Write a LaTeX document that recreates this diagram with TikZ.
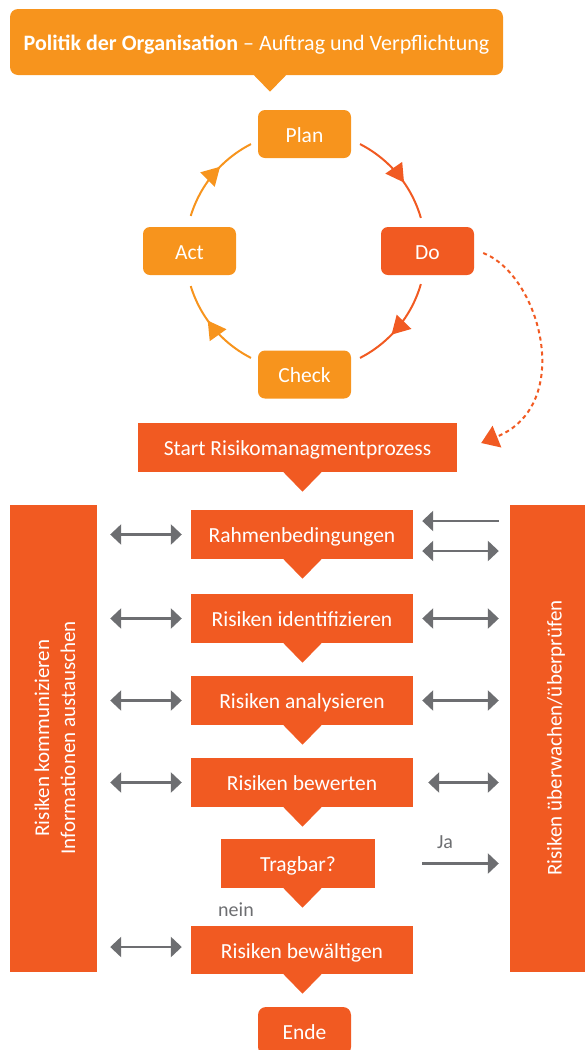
\documentclass[tikz,border=0pt]{standalone}
\usepackage{fontspec}
\setmainfont{Carlito}
\usetikzlibrary{arrows.meta,decorations.markings,calc}
\definecolor{lightor}{HTML}{F7941D}
\definecolor{darkor}{HTML}{F15A22}
\definecolor{arrgray}{HTML}{6D6E71}
\tikzset{gtip/.tip={Triangle[length=11pt,width=20pt]}}
% callout point below a box: node, colour, x offset, half width
\newcommand\droptip[4]{\fill[#2] ($(#1.south)+(#3-#4,-0.5)$) -- ($(#1.south)+(#3+#4,-0.5)$) -- ($(#1.south)+(#3,#4)$) -- cycle;}
\begin{document}
\begin{tikzpicture}[x=1pt,y=-1pt,
  txt/.style={text=white, font=\fontsize{21.5}{25}\selectfont, inner sep=0pt, text height=16pt, text depth=0pt},
  flowbox/.style={txt, fill=darkor, minimum width=222pt, minimum height=49pt},
  pdcabox/.style={txt, fill=lightor, rounded corners=7pt, minimum width=93pt, minimum height=48pt},
  sidebar/.style={fill=darkor, inner sep=0pt},
  vtext/.style={text=white, font=\fontsize{21}{26}\selectfont, rotate=90, align=center, inner sep=0pt},
  link/.style={draw=arrgray, line width=2.7pt},
  biarrow/.style={link, gtip-gtip},
  uniarrow/.style={link, -gtip},
  cyclearc/.style={color=#1, line width=2pt, postaction={decorate},
    decoration={markings, mark=at position 0.6 with {\arrow{Triangle[length=18pt,width=20pt]}}}},
  glabel/.style={text=arrgray, font=\fontsize{20}{24}\selectfont, inner sep=0pt, anchor=base}
]
\useasboundingbox (0,0) rectangle (585,1050);

% policy banner
\node[txt, fill=lightor, rounded corners=8pt, minimum width=493pt, minimum height=66pt,
  font=\fontsize{22}{27}\selectfont] (policy) at (256.5,42)
  {\textbf{Politik der Organisation} – Auftrag und Verpflichtung};
\droptip{policy}{lightor}{13.5}{16.5}

% PDCA cycle
\coordinate (cyc) at (305.5,251);
\draw[cyclearc=darkor] ([shift={(cyc)}]-63:120) arc[start angle=-63, end angle=-16, radius=120];
\draw[cyclearc=darkor] ([shift={(cyc)}]16:120) arc[start angle=16, end angle=63, radius=120];
\draw[cyclearc=lightor] ([shift={(cyc)}]117:120) arc[start angle=117, end angle=163, radius=120];
\draw[cyclearc=lightor] ([shift={(cyc)}]197:120) arc[start angle=197, end angle=243, radius=120];

\node[pdcabox] (plan) at (304.5,134) {Plan};
\node[pdcabox, fill=darkor] (do) at (427.5,251) {Do};
\node[pdcabox] (act) at (189.5,251) {Act};
\node[pdcabox] (check) at (304.5,374.5) {Check};

% start of the risk process
\node[flowbox, minimum width=319pt] (start) at (297.5,447.5) {Start Risikomanagmentprozess};
\droptip{start}{darkor}{5}{19.5}

\draw[darkor, line width=2pt, dash pattern=on 4pt off 3.5pt, -{Triangle[length=17pt,width=23pt]}]
  ($(do.east)+(9,2)$) .. controls +(57,22) and +(94,-38) .. ($(start.east)+(24,-4.5)$);

% side bars
\node[sidebar, minimum width=87pt, minimum height=467pt] (lbar) at (53.5,738.5) {};
\node[sidebar, minimum width=75pt, minimum height=467pt] (rbar) at (547.5,738.5) {};
\node[vtext] (ltext) at (55,738) {Risiken kommunizieren\\Informationen austauschen};
\node[vtext] (rtext) at (556,738) {Risiken überwachen/überprüfen};

% process steps
\node[flowbox] (rahmen) at (302,534.5) {Rahmenbedingungen};
\node[flowbox] (ident) at (302,618.5) {Risiken identifizieren};
\node[flowbox] (analys) at (302,700.5) {Risiken analysieren};
\node[flowbox] (bewert) at (302,782.5) {Risiken bewerten};
\node[flowbox, minimum width=154pt] (tragbar) at (298,863.5) {Tragbar?};
\node[flowbox, minimum height=48pt] (bewaelt) at (302,950) {Risiken bewältigen};
\node[pdcabox, fill=darkor, rounded corners=8pt] (ende) at (304.5,1031) {Ende};

\droptip{rahmen}{darkor}{0.5}{19.5}
\droptip{ident}{darkor}{0.5}{19.5}
\droptip{analys}{darkor}{0.5}{19.5}
\droptip{bewert}{darkor}{0.5}{19.5}
\droptip{tragbar}{darkor}{4.5}{19.5}
\droptip{bewaelt}{darkor}{0.5}{19.5}

% communication links
\foreach \b in {rahmen,ident,analys,bewert}
  \draw[biarrow, shorten <=13pt, shorten >=9pt] (lbar.east |- \b.west) -- (\b.west);
\draw[biarrow, shorten <=13pt, shorten >=9pt] ($(lbar.east |- bewaelt.west)+(0,-3)$) -- ($(bewaelt.west)+(0,-3)$);

% monitoring links
\draw[uniarrow, shorten <=11pt, shorten >=9pt] ($(rbar.west |- rahmen.east)+(0,-13.5)$) -- ($(rahmen.east)+(0,-13.5)$);
\draw[biarrow, shorten <=9pt, shorten >=11pt] ($(rahmen.east)+(0,16.5)$) -- ($(rbar.west |- rahmen.east)+(0,16.5)$);
\draw[biarrow, shorten <=9pt, shorten >=11pt] (ident.east) -- (rbar.west |- ident.east);
\draw[biarrow, shorten <=9pt, shorten >=11pt] (analys.east) -- (rbar.west |- analys.east);
\draw[biarrow, shorten <=15pt, shorten >=11pt] (bewert.east) -- (rbar.west |- bewert.east);
\draw[uniarrow, shorten <=47pt, shorten >=11pt] (tragbar.east) -- (rbar.west |- tragbar.east);

\node[glabel] (ja) at (445,848) {Ja};
\node[glabel] (nein) at (236,916) {nein};
\end{tikzpicture}
\end{document}
